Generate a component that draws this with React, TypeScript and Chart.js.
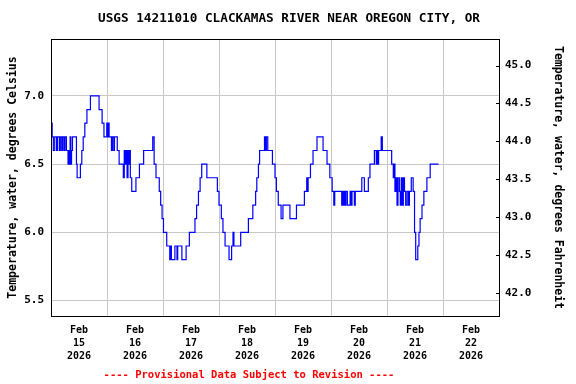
import React, { useEffect, useRef } from 'react';
import { Chart, registerables } from 'chart.js';

Chart.register(...registerables);

const TITLE = 'USGS 14211010 CLACKAMAS RIVER NEAR OREGON CITY, OR';
const FOOTER = '---- Provisional Data Subject to Revision ----';
const LEFT_TITLE = 'Temperature, water, degrees Celsius';
const RIGHT_TITLE = 'Temperature, water, degrees Fahrenheit';

// x axis: hours since Feb 15 2026 00:00
const xMinHours = 0;
const xMaxHours = 192;
const dayLabels = [
  ['Feb', '15', '2026'],
  ['Feb', '16', '2026'],
  ['Feb', '17', '2026'],
  ['Feb', '18', '2026'],
  ['Feb', '19', '2026'],
  ['Feb', '20', '2026'],
  ['Feb', '21', '2026'],
  ['Feb', '22', '2026'],
];

const celsiusTicks = [5.5, 6.0, 6.5, 7.0];
const fahrenheitTicks = [42.0, 42.5, 43.0, 43.5, 44.0, 44.5, 45.0];
const celsiusMin = 5.387;
const celsiusMax = 7.417;

// change points: hour at which the reading becomes the value
const hours = [
  0.0, 0.5, 1.0, 1.6, 2.4, 2.8, 3.6, 4.0, 4.6, 5.0, 5.6, 6.0, 6.6, 7.3, 7.6, 7.9, 8.2, 8.5, 8.8, 9.2,
  10.9, 11.2, 12.6, 13.2, 13.8, 14.5, 15.4, 16.9, 20.6, 21.9, 22.7, 23.9, 24.3, 24.6, 24.9, 25.9, 26.3, 26.9, 27.2, 28.4,
  29.2, 31.0, 31.4, 31.8, 32.2, 32.6, 33.0, 33.4, 33.8, 34.0, 34.6, 36.4, 37.9, 39.7, 43.6, 44.2, 45.0, 46.4, 47.0, 47.6,
  48.2, 49.6, 50.9, 51.3, 51.6, 53.1, 54.0, 54.3, 56.1, 57.9, 59.3, 61.7, 62.4, 63.2, 63.9, 64.6, 66.8, 71.3, 72.0, 73.0,
  73.7, 74.6, 76.3, 77.4, 78.0, 78.4, 81.3, 84.6, 86.5, 87.7, 88.2, 88.9, 89.4, 91.5, 92.0, 92.3, 92.9, 94.9, 96.0, 96.6,
  97.4, 98.6, 99.4, 102.4, 105.2, 108.6, 109.6, 109.9, 110.2, 111.2, 112.3, 114.0, 116.6, 118.3, 119.5, 120.5, 121.2, 121.6, 124.6, 125.0,
  125.3, 125.7, 126.0, 126.4, 127.0, 128.2, 128.6, 129.0, 130.0, 130.4, 133.2, 134.3, 136.0, 136.7, 138.6, 139.4, 139.7, 140.0, 140.4, 141.5,
  142.0, 146.0, 146.7, 147.0, 147.4, 147.8, 148.3, 148.7, 149.3, 149.7, 150.1, 150.6, 151.0, 151.5, 152.0, 152.6, 153.2, 153.6, 154.4, 155.2,
  155.8, 156.3, 157.2, 157.7, 158.2, 159.0, 159.8, 161.1, 162.5, 166.1,
];
const tempC = [
  6.8, 6.7, 6.6, 6.7, 6.6, 6.7, 6.6, 6.7, 6.6, 6.7, 6.6, 6.7, 6.6, 6.5, 6.6, 6.5, 6.7, 6.5, 6.6, 6.7,
  6.5, 6.4, 6.5, 6.6, 6.7, 6.8, 6.9, 7.0, 6.9, 6.8, 6.7, 6.8, 6.7, 6.8, 6.7, 6.6, 6.7, 6.6, 6.7, 6.6,
  6.5, 6.4, 6.6, 6.5, 6.6, 6.4, 6.6, 6.5, 6.6, 6.4, 6.3, 6.4, 6.5, 6.6, 6.7, 6.5, 6.4, 6.3, 6.2, 6.1,
  6.0, 5.9, 5.8, 5.9, 5.8, 5.9, 5.8, 5.9, 5.8, 5.9, 6.0, 6.1, 6.2, 6.3, 6.4, 6.5, 6.4, 6.3, 6.2, 6.1,
  6.0, 5.9, 5.8, 5.9, 6.0, 5.9, 6.0, 6.1, 6.2, 6.3, 6.4, 6.5, 6.6, 6.7, 6.6, 6.7, 6.6, 6.5, 6.4, 6.3,
  6.2, 6.1, 6.2, 6.1, 6.2, 6.3, 6.4, 6.3, 6.4, 6.5, 6.6, 6.7, 6.6, 6.5, 6.4, 6.3, 6.2, 6.3, 6.2, 6.3,
  6.2, 6.3, 6.2, 6.3, 6.2, 6.3, 6.2, 6.3, 6.2, 6.3, 6.4, 6.3, 6.4, 6.5, 6.6, 6.5, 6.6, 6.5, 6.6, 6.7,
  6.6, 6.5, 6.4, 6.5, 6.3, 6.4, 6.2, 6.4, 6.3, 6.2, 6.4, 6.2, 6.4, 6.3, 6.2, 6.3, 6.2, 6.3, 6.4, 6.3,
  6.0, 5.8, 5.9, 6.0, 6.1, 6.2, 6.3, 6.4, 6.5, 6.5,
];

const FONT = '"DejaVu Sans Mono", monospace';
const GRID = '#c8c8c8';

const toF = (c: number) => c * 1.8 + 32;

const framePlugin = {
  id: 'usgsFrame',
  afterDraw(chart: any) {
    const { ctx, chartArea } = chart;
    const { left, top, right, bottom } = chartArea;
    ctx.save();
    ctx.strokeStyle = '#000';
    ctx.lineWidth = 1;
    ctx.strokeRect(Math.round(left) + 0.5, Math.round(top) + 0.5, Math.round(right - left), Math.round(bottom - top));
    // inward tick marks on the right axis
    const yr = chart.scales.yF;
    ctx.beginPath();
    for (const t of yr.ticks) {
      const py = Math.round(yr.getPixelForValue(t.value)) + 0.5;
      ctx.moveTo(right - 3, py);
      ctx.lineTo(right, py);
    }
    ctx.stroke();
    ctx.fillStyle = '#000';
    ctx.font = `bold 12.7px ${FONT}`;
    ctx.textAlign = 'center';
    ctx.textBaseline = 'middle';
    ctx.fillText(TITLE, 289, 19);
    ctx.fillStyle = '#ff0000';
    ctx.font = `bold 10.5px ${FONT}`;
    ctx.fillText(FOOTER, 249, 375);
    ctx.restore();
  },
};

export default function App() {
  const ref = useRef<HTMLCanvasElement | null>(null);

  useEffect(() => {
    document.body.style.margin = '0';
    const canvas = ref.current;
    if (!canvas) return;
    const points = hours.map((h, i) => ({ x: h, y: tempC[i] }));
    const chart = new Chart(canvas, {
      type: 'line',
      data: {
        datasets: [
          {
            data: points,
            borderColor: '#0000ff',
            borderWidth: 1.2,
            pointRadius: 0,
            stepped: 'before',
            fill: false,
            yAxisID: 'y',
          },
        ],
      },
      options: {
        responsive: false,
        animation: false,
        events: [],
        layout: { padding: { top: 39, left: 0, right: 0, bottom: 0 } },
        plugins: {
          legend: { display: false },
          title: { display: false },
          tooltip: { enabled: false },
        },
        scales: {
          x: {
            type: 'linear',
            min: xMinHours,
            max: xMaxHours,
            afterBuildTicks: (scale: any) => {
              const t = [];
              for (let v = xMinHours; v <= xMaxHours; v += 12) t.push({ value: v });
              scale.ticks = t;
            },
            afterFit: (scale: any) => {
              scale.height = 68;
            },
            border: { display: false },
            grid: {
              drawTicks: false,
              color: (ctx: any) =>
                ctx.tick && ctx.tick.value % 24 === 0 ? GRID : 'rgba(0,0,0,0)',
              lineWidth: 1,
            },
            ticks: {
              autoSkip: false,
              maxRotation: 0,
              minRotation: 0,
              padding: 8,
              color: '#000',
              font: { family: FONT, size: 10, weight: 'bold', lineHeight: 1.3 },
              callback: (value: any) => {
                const v = Number(value);
                if (v % 24 === 12) return dayLabels[(v - 12) / 24];
                return '';
              },
            },
          },
          y: {
            type: 'linear',
            position: 'left',
            min: celsiusMin,
            max: celsiusMax,
            afterBuildTicks: (scale: any) => {
              scale.ticks = celsiusTicks.map((v) => ({ value: v }));
            },
            afterFit: (scale: any) => {
              scale.width = 51;
            },
            border: { display: false },
            grid: { drawTicks: false, color: GRID, lineWidth: 1 },
            ticks: {
              padding: 7,
              color: '#000',
              font: { family: FONT, size: 11, weight: 'bold' },
              callback: (value: any) => Number(value).toFixed(1),
            },
            title: {
              display: true,
              text: LEFT_TITLE,
              color: '#000',
              padding: { top: 6, bottom: 0 },
              font: { family: FONT, size: 11.5, weight: 'bold', lineHeight: 1.2 },
            },
          },
          yF: {
            type: 'linear',
            position: 'right',
            min: toF(celsiusMin),
            max: toF(celsiusMax),
            afterBuildTicks: (scale: any) => {
              scale.ticks = fahrenheitTicks.map((v) => ({ value: v }));
            },
            afterFit: (scale: any) => {
              scale.width = 77;
            },
            border: { display: false },
            grid: { display: false, drawTicks: false },
            ticks: {
              padding: 6,
              color: '#000',
              font: { family: FONT, size: 11, weight: 'bold' },
              callback: (value: any) => Number(value).toFixed(1),
            },
            title: {
              display: true,
              text: RIGHT_TITLE,
              color: '#000',
              padding: { top: 11, bottom: 0 },
              font: { family: FONT, size: 11.5, weight: 'bold', lineHeight: 1.2 },
            },
          },
        },
      } as any,
      plugins: [framePlugin],
    });
    return () => chart.destroy();
  }, []);

  return (
    <div style={{ position: 'absolute', left: 0, top: 0, width: 576, height: 384, background: '#fff' }}>
      <canvas ref={ref} width={576} height={384} style={{ width: 576, height: 384 }} />
    </div>
  );
}
